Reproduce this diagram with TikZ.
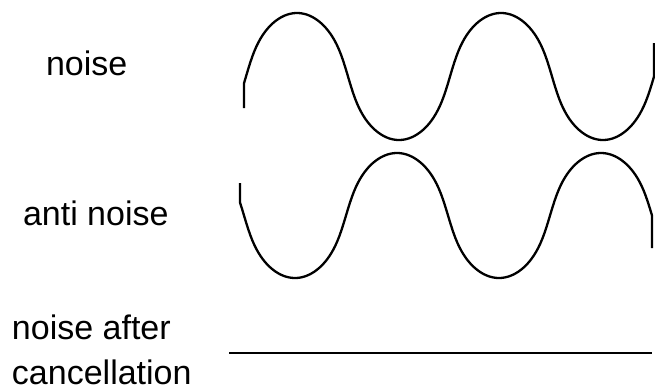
\documentclass[tikz,border=0pt]{standalone}
\usepackage{fontspec}
\setmainfont{Liberation Sans}
\usetikzlibrary{calc}

\begin{document}
\begin{tikzpicture}[x=1pt, y=-1pt,
		declare function={rc(\t)=1.0287*cos(\t)/pow(cos(\t)*cos(\t)+0.12,0.25);},
		wave/.style = {line width=2.3pt, black, line join=round},
		lbl/.style = {anchor=base west, inner sep=0pt, outer sep=0pt, font=\fontsize{34}{47}\selectfont}]
		
		\useasboundingbox (0,0) rectangle (655,391);
		
		% labels
		\node[lbl] (noise) at (46,75) {noise};
		\node[lbl] (anti) at (23,225) {anti noise};
		\node[lbl] (after) at (12,339) {noise after};
		\node[lbl] (cancel) at (12,384) {cancellation};
		
		% noise
		\draw [wave]  (244,108) -- plot[domain=244:654, samples=200] (\x, {76.5-63.5*rc(((\x-297)/204)*360)}) -- (654,43);
		
		% anti noise
		\draw [wave]  (240,183) -- plot[domain=240:652, samples=200] (\x, {215.5+62.5*rc(((\x-295)/204)*360)}) -- (652,248);
		
		% after cancellation
		\coordinate (flatL) at (229,353);
		\coordinate (flatR) at (652,353);
		\draw [line width=2.8pt]  (flatL) -- (flatR);
		
	\end{tikzpicture}
\end{document}
